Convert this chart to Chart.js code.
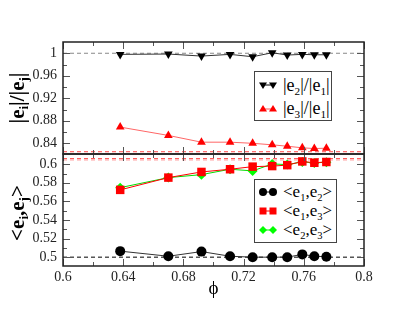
<!DOCTYPE html>
<html>
<head>
<meta charset="utf-8">
<script src="https://cdn.jsdelivr.net/npm/chart.js@4.4.1/dist/chart.umd.min.js"></script>
<style>
  body { margin: 0; background: #fff; }
  #wrap { position: relative; width: 415px; height: 310px; font-family: "Liberation Serif", "DejaVu Serif", serif; color: #000; }
  canvas { position: absolute; left: 0; top: 0; }
  sub { font-size: 0.62em; vertical-align: -0.35em; line-height: 0; }
  .ytitle { position: absolute; font-size: 21px; font-weight: bold; white-space: nowrap; transform: translate(-50%, -50%) rotate(-90deg); }
  .legend { position: absolute; border: 1px solid #444; background: #fff; box-sizing: border-box; }
  .row { position: absolute; left: 0; display: flex; align-items: center; white-space: nowrap; }
  .row svg { margin-left: 4px; margin-right: 6px; }
</style>
</head>
<body>
<div id="wrap">
  <canvas id="top" width="415" height="310"></canvas>
  <canvas id="bottom" width="415" height="310"></canvas>

  <div class="ytitle" style="left:17px; top:98px;">|e<sub>i</sub>|/|e<sub>j</sub>|</div>
  <div class="ytitle" style="left:17px; top:213px;">&lt;e<sub>i</sub>,e<sub>j</sub>&gt;</div>

  <div class="legend" style="left:254px; top:71px; width:78px; height:50px; font-size:18px;">
    <div class="row" style="top:2px; height:22px;">
      <svg width="18" height="12"><line x1="4" y1="6" x2="14" y2="6" stroke="#000" stroke-width="1"/>
        <polygon points="0,3.5 8,3.5 4,10" fill="#000"/><polygon points="10,3.5 18,3.5 14,10" fill="#000"/></svg>
      <span>|e<sub>2</sub>|/|e<sub>1</sub>|</span>
    </div>
    <div class="row" style="top:25px; height:22px;">
      <svg width="18" height="12"><line x1="4" y1="7" x2="14" y2="7" stroke="#ff5555" stroke-width="1"/>
        <polygon points="0,9.5 8,9.5 4,3" fill="#ff0000"/><polygon points="10,9.5 18,9.5 14,3" fill="#ff0000"/></svg>
      <span>|e<sub>3</sub>|/|e<sub>1</sub>|</span>
    </div>
  </div>

  <div class="legend" style="left:254px; top:179px; width:83px; height:64px; font-size:17px;">
    <div class="row" style="top:2px; height:19px;">
      <svg width="18" height="12"><line x1="4" y1="6" x2="14" y2="6" stroke="#000" stroke-width="1"/>
        <circle cx="4" cy="6" r="4" fill="#000"/><circle cx="14" cy="6" r="4" fill="#000"/></svg>
      <span>&lt;e<sub>1</sub>,e<sub>2</sub>&gt;</span>
    </div>
    <div class="row" style="top:21px; height:19px;">
      <svg width="18" height="12"><line x1="4" y1="6" x2="14" y2="6" stroke="#ff0000" stroke-width="1"/>
        <rect x="0.5" y="2.5" width="7" height="7" fill="#ff0000"/><rect x="10.5" y="2.5" width="7" height="7" fill="#ff0000"/></svg>
      <span>&lt;e<sub>1</sub>,e<sub>3</sub>&gt;</span>
    </div>
    <div class="row" style="top:40px; height:19px;">
      <svg width="18" height="12"><line x1="4" y1="6" x2="14" y2="6" stroke="#00ee00" stroke-width="1"/>
        <polygon points="4,2 8,6 4,10 0,6" fill="#00ff00"/><polygon points="14,2 18,6 14,10 10,6" fill="#00ff00"/></svg>
      <span>&lt;e<sub>2</sub>,e<sub>3</sub>&gt;</span>
    </div>
  </div>
</div>

<script>
// packing fraction values (x)
const phi = [0.638, 0.670, 0.692, 0.711, 0.726, 0.739, 0.749, 0.759, 0.767, 0.775];

// top panel: |e2|/|e1| and |e3|/|e1|
const ratio21 = [0.998, 0.9986, 0.995, 0.998, 0.9938, 1.0009, 0.9968, 0.998, 0.9973, 0.9973];
const ratio31 = [0.8688, 0.854, 0.842, 0.842, 0.840, 0.8373, 0.8348, 0.832, 0.8307, 0.8313];

// bottom panel: <ei,ej>
const dot12 = [0.5065, 0.501, 0.506, 0.501, 0.5, 0.5, 0.5, 0.503, 0.501, 0.5005];
const dot13 = [0.5724, 0.5856, 0.5917, 0.5946, 0.5974, 0.598, 0.599, 0.603, 0.6016, 0.6024];
const dot23 = [0.5748, 0.5856, 0.5888, 0.5946, 0.5928, 0.6003, 0.5996, 0.6025, 0.6014, 0.6022];

// horizontal reference levels
const topRefs = [1.0, 0.825];
const bottomRefs = [0.5, 0.606, 0.6045];

// ticks
const xMajor = [0.6, 0.64, 0.68, 0.72, 0.76, 0.8];
const xMinor = [0.62, 0.66, 0.70, 0.74, 0.78];
const topYMajor = [0.84, 0.88, 0.92, 0.96, 1];
const topYMinor = [0.86, 0.90, 0.94, 0.98];
const botYMajor = [0.5, 0.52, 0.54, 0.56, 0.58, 0.6];
const botYMinor = [0.51, 0.53, 0.55, 0.57, 0.59];

const pts = (ys) => phi.map((x, i) => ({ x: x, y: ys[i] }));
const hline = (y) => [{ x: 0.6, y: y }, { x: 0.8, y: y }];
const fmt = (v) => String(+v.toFixed(3));
const tickFont = { family: "Liberation Serif", size: 14 };

// frame + inward ticks on all four sides
const frameTicks = {
  id: 'frameTicks',
  afterDraw(chart, args, opts) {
    const { ctx, chartArea: a, scales } = chart;
    ctx.save();
    ctx.strokeStyle = '#555';
    ctx.lineWidth = 1;
    const drawX = (vals, len) => {
      vals.forEach(v => {
        const px = Math.round(scales.x.getPixelForValue(v)) + 0.5;
        ctx.beginPath();
        ctx.moveTo(px, a.top); ctx.lineTo(px, a.top + len);
        ctx.moveTo(px, a.bottom); ctx.lineTo(px, a.bottom - len);
        ctx.stroke();
      });
    };
    const drawY = (vals, len) => {
      vals.forEach(v => {
        const py = Math.round(scales.y.getPixelForValue(v)) + 0.5;
        ctx.beginPath();
        ctx.moveTo(a.left, py); ctx.lineTo(a.left + len, py);
        ctx.moveTo(a.right, py); ctx.lineTo(a.right - len, py);
        ctx.stroke();
      });
    };
    drawX(xMajor, 7); drawX(xMinor, 4);
    drawY(opts.yMajor, 7); drawY(opts.yMinor, 4);
    ctx.strokeStyle = '#222';
    ctx.lineWidth = 1.5;
    ctx.strokeRect(a.left, a.top, a.right - a.left, a.bottom - a.top);
    ctx.restore();
  }
};

const series = (data, color, lineColor, style, radius, rot) => ({
  data: data, borderColor: lineColor, backgroundColor: color, borderWidth: 1,
  pointStyle: style, pointRadius: radius, pointRotation: rot || 0,
  pointBackgroundColor: color, pointBorderColor: color, pointBorderWidth: 0,
  showLine: true, order: 1
});
const refLine = (y, color) => ({
  data: hline(y), borderColor: color, borderWidth: 1, borderDash: [4, 3],
  pointRadius: 0, showLine: true, order: 10
});

const baseOpts = (padding, yMin, yMax, yMajor, yMinor, xVisible) => ({
  responsive: false,
  animation: false,
  devicePixelRatio: 1,
  layout: { padding: padding },
  plugins: {
    legend: { display: false },
    tooltip: { enabled: false },
    frameTicks: { yMajor: yMajor, yMinor: yMinor }
  },
  scales: {
    x: {
      type: 'linear', min: 0.6, max: 0.8,
      grid: { display: false, drawTicks: false },
      border: { display: false },
      afterBuildTicks: (s) => { s.ticks = xMajor.map(v => ({ value: v })); },
      ticks: { display: xVisible, padding: 3, color: '#222', font: tickFont, callback: fmt, maxRotation: 0, autoSkip: false },
      title: { display: xVisible, text: 'ϕ', color: '#000', font: { family: "Liberation Serif", size: 19 }, padding: { top: 0, bottom: 4 } },
      afterFit: (s) => { s.height = xVisible ? 38 : 0; }
    },
    y: {
      type: 'linear', min: yMin, max: yMax,
      grid: { display: false, drawTicks: false },
      border: { display: false },
      afterBuildTicks: (s) => { s.ticks = yMajor.map(v => ({ value: v })); },
      ticks: { padding: 6, color: '#222', font: tickFont, callback: fmt, autoSkip: false },
      afterFit: (s) => { s.width = 63; }
    }
  }
});

new Chart(document.getElementById('top'), {
  type: 'scatter',
  data: {
    datasets: [
      refLine(topRefs[0], '#888'),
      refLine(topRefs[1], '#ff4444'),
      series(pts(ratio21), '#000', '#333', 'triangle', 5, 180),
      series(pts(ratio31), '#ff0000', '#ff6666', 'triangle', 5, 0)
    ]
  },
  options: baseOpts({ left: 0, top: 42, right: 51, bottom: 156 }, 0.821, 1.02, topYMajor, topYMinor, false),
  plugins: [frameTicks]
});

new Chart(document.getElementById('bottom'), {
  type: 'scatter',
  data: {
    datasets: [
      refLine(bottomRefs[0], '#000'),
      refLine(bottomRefs[1], '#ff4444'),
      refLine(bottomRefs[2], '#ffaaaa'),
      series(pts(dot12), '#000', '#333', 'circle', 5),
      series(pts(dot13), '#ff0000', '#ff0000', 'rect', 6),
      series(pts(dot23), '#00ff00', '#00dd00', 'rectRot', 5)
    ]
  },
  options: baseOpts({ left: 0, top: 154, right: 51, bottom: 6 }, 0.4905, 0.611, botYMajor, botYMinor, true),
  plugins: [frameTicks]
});
</script>
</body>
</html>
